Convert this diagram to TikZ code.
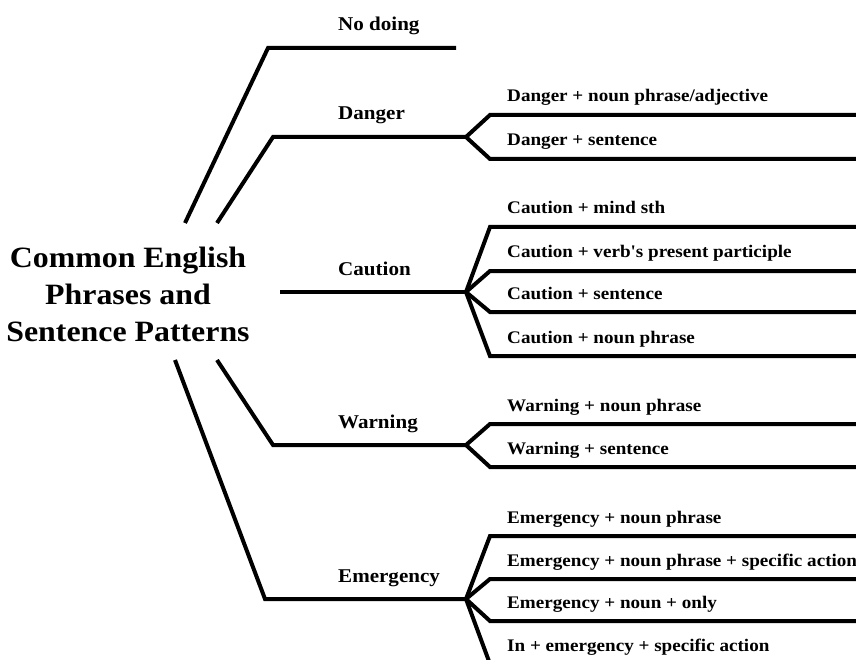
\documentclass[tikz,border=0pt]{standalone}
\usepackage{fontspec}
\setmainfont{Liberation Serif}[FakeStretch=1.08]
\newfontfamily\aposfont{Liberation Serif}[FakeStretch=1.08,Ligatures=ResetAll]
\newcommand{\sq}{{\aposfont\bfseries'}}
\begin{document}
\begin{tikzpicture}[x=1pt,y=-1pt,
  br/.style={line width=4pt,line join=miter},
  cat/.style={anchor=base west,inner sep=0pt,font=\fontsize{19.5}{22}\selectfont\bfseries},
  leaf/.style={anchor=base west,inner sep=0pt,font=\fontsize{17.7}{20}\selectfont\bfseries},
  title/.style={align=center,inner sep=0pt,font=\fontsize{29.5}{37}\selectfont\bfseries}]
\useasboundingbox (0,0) rectangle (856,660);
\clip (0,0) rectangle (856,660);
\fill[white] (0,0) rectangle (856,660);
% root
\node[title] (root) at (128,294) {Common English\\Phrases and\\Sentence Patterns};
% start points
\coordinate (s1) at (185,223);
\coordinate (s2) at (217,223);
\coordinate (s3) at (280,292);
\coordinate (s4) at (217,360);
\coordinate (s5) at (175,360);
% corners
\coordinate (c1) at (268,48);
\coordinate (c2) at (273,137);
\coordinate (c4) at (273,445);
\coordinate (c5) at (265,599);
% forks / ends
\coordinate (e1) at (456,48);
\coordinate (f2) at (466,137);
\coordinate (f3) at (466,292);
\coordinate (f4) at (466,445);
\coordinate (f5) at (466,599);
\coordinate (R) at (870,0);
% branches
\draw[br] (s1) -- (c1) -- (e1);
\draw[br] (s2) -- (c2) -- (f2);
\draw[br] (s3) -- (f3);
\draw[br] (s4) -- (c4) -- (f4);
\draw[br] (s5) -- (c5) -- (f5);
% category labels
\node[cat] (nodoing) at (338,31) {No doing};
\node[cat] (danger) at (338,120) {Danger};
\node[cat] (caution) at (338,275) {Caution};
\node[cat] (warning) at (338,428) {Warning};
\node[cat] (emergency) at (338,582) {Emergency};
% leaves
\foreach \f/\ys in {f2/{115,159}, f3/{227,271,312,356}, f4/{424,467}, f5/{536,579,621,664}}{
  \foreach \y in \ys {
    \draw[br] (\f) -- (490,\y) -- (R |- 0,\y);
  }
}
\node[leaf] (d1) at (507,102) {Danger + noun phrase/adjective};
\node[leaf] (d2) at (507,146) {Danger + sentence};
\node[leaf] (c1t) at (507,214) {Caution + mind sth};
\node[leaf] (c2t) at (507,258) {Caution + verb\sq s present participle};
\node[leaf] (c3t) at (507,299) {Caution + sentence};
\node[leaf] (c4t) at (507,343) {Caution + noun phrase};
\node[leaf] (w1) at (507,411) {Warning + noun phrase};
\node[leaf] (w2) at (507,454) {Warning + sentence};
\node[leaf] (m1) at (507,523) {Emergency + noun phrase};
\node[leaf] (m2) at (507,566) {Emergency + noun phrase + specific action};
\node[leaf] (m3) at (507,608) {Emergency + noun + only};
\node[leaf] (m4) at (507,651) {In + emergency + specific action};
\end{tikzpicture}
\end{document}
